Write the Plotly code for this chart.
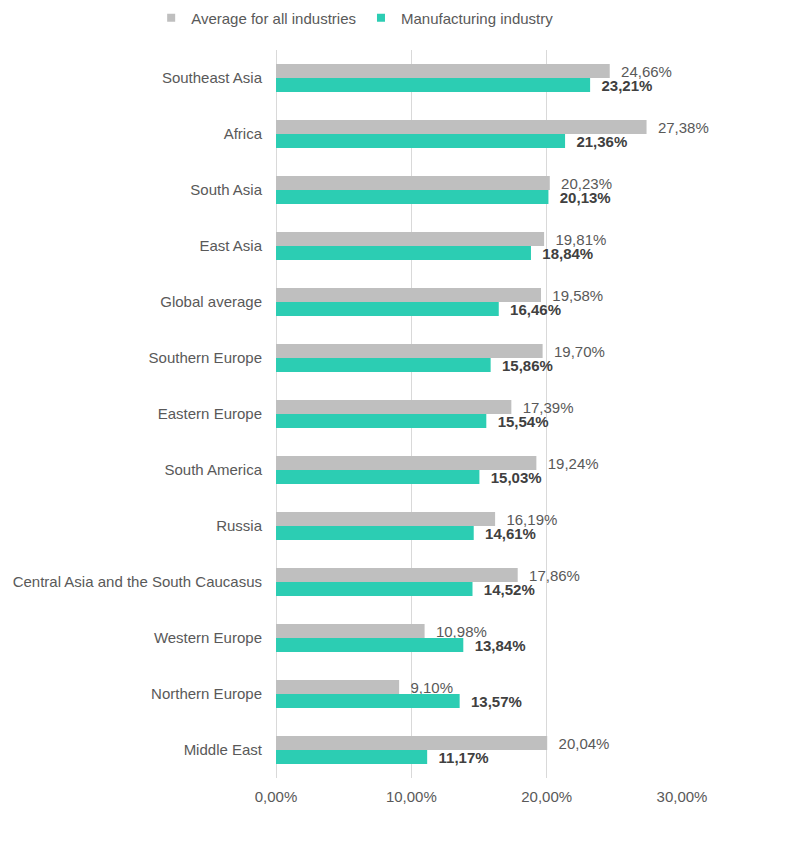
import plotly.graph_objects as go

regions = ["Southeast Asia", "Africa", "South Asia", "East Asia", "Global average",
           "Southern Europe", "Eastern Europe", "South America", "Russia",
           "Central Asia and the South Caucasus", "Western Europe", "Northern Europe",
           "Middle East"]
avg_all = [24.66, 27.38, 20.23, 19.81, 19.58, 19.70, 17.39, 19.24, 16.19, 17.86, 10.98, 9.10, 20.04]
manufacturing = [23.21, 21.36, 20.13, 18.84, 16.46, 15.86, 15.54, 15.03, 14.61, 14.52, 13.84, 13.57, 11.17]
tick_vals = [0, 10, 20, 30]
tick_labels = ["0,00%", "10,00%", "20,00%", "30,00%"]

FONT = "Arial, Liberation Sans, sans-serif"
GRAY = "#bfbfbf"
TEAL = "#2ccdb3"
pad = "\u00a0\u00a0"

fig = go.Figure()
fig.add_trace(go.Bar(
    y=regions, x=avg_all, orientation="h", name="Average for all industries",
    marker=dict(color=GRAY, line=dict(width=0)), showlegend=False,
    texttemplate=pad + "%{x:.2f}%", textposition="outside", cliponaxis=False,
    constraintext="none",
    textfont=dict(family=FONT, size=15, color="#595959"),
))
fig.add_trace(go.Bar(
    y=regions, x=manufacturing, orientation="h", name="Manufacturing industry",
    marker=dict(color=TEAL, line=dict(width=0)), showlegend=False,
    texttemplate=pad + "<b>%{x:.2f}%</b>", textposition="outside", cliponaxis=False,
    constraintext="none",
    textfont=dict(family=FONT, size=15, color="#404040"),
))
# legend entries (small square markers)
for nm, col in [("Average for all industries", GRAY), ("Manufacturing industry", TEAL)]:
    fig.add_trace(go.Scatter(x=[None], y=[None], mode="markers", name=nm,
                             marker=dict(symbol="square", size=8, color=col)))

fig.update_layout(
    width=802, height=835,
    barmode="group", bargap=0.5, bargroupgap=0,
    separators=",.",
    paper_bgcolor="white", plot_bgcolor="white",
    margin=dict(l=268, r=128, t=42, b=65, autoexpand=False),
    font=dict(family=FONT, size=15, color="#595959"),
    legend=dict(orientation="h", x=0.195, xanchor="center", y=1.044, yref="paper",
                yanchor="middle", font=dict(size=15, color="#595959"),
                itemwidth=30, traceorder="normal", tracegroupgap=0),
    xaxis=dict(range=[0, 30], tickvals=tick_vals, ticktext=tick_labels,
               showgrid=True, gridcolor="#d9d9d9", gridwidth=1,
               zeroline=True, zerolinecolor="#d9d9d9", zerolinewidth=1,
               showline=False, ticks="", automargin=False, ticklabelstandoff=8,
               tickfont=dict(size=15, color="#595959")),
    yaxis=dict(autorange="reversed", showgrid=False, zeroline=False, showline=False,
               ticks="", ticklabelstandoff=13, automargin=False,
               tickfont=dict(size=15, color="#595959")),
    showlegend=True,
)

fig.write_html("out.html")
